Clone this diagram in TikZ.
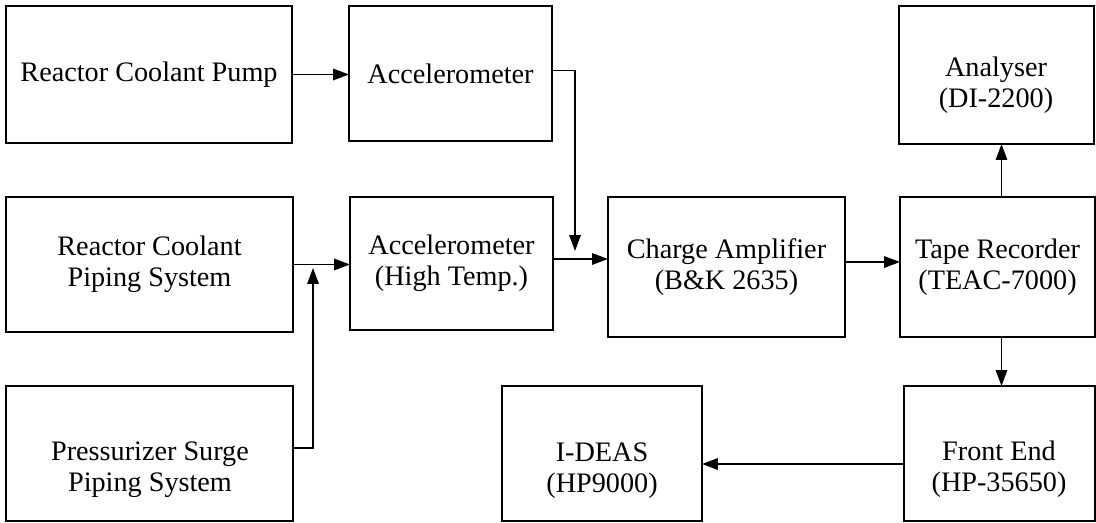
\documentclass[tikz,border=0pt]{standalone}
\usepackage{fontspec}
\setmainfont{Liberation Serif}
\usetikzlibrary{arrows.meta,calc}
\newcommand{\mybox}[6]{\node[box, minimum width={(#4-#2)*0.567pt}, minimum height={(#5-#3)*0.567pt}] (#1) at ({(#2+#4)/2},{(#3+#5)/2}) {#6};}
\begin{document}
\begin{tikzpicture}[x=0.567pt,y=-0.567pt,
  lbl/.style={align=center, inner sep=0pt, font=\fontsize{16}{17.5}\selectfont},
  box/.style={draw, line width=0.9pt, inner sep=0pt, outer sep=0pt, lbl},
  conn/.style={line width=0.8pt, -{Triangle[length=9pt,width=6.5pt]}}]
\useasboundingbox (0,0) rectangle (1096,522);
% row 1
\mybox{rcp}{6}{6}{292}{143}{Reactor Coolant Pump}
\mybox{acc}{349}{6}{552}{141}{Accelerometer}
\mybox{ana}{899}{6}{1094}{144}{}
\node[lbl] (anatext) at (996,85) {Analyser\\(DI-2200)};
% row 2
\mybox{rcps}{6}{197}{293}{332}{Reactor Coolant\\Piping System}
\mybox{acch}{350}{197}{553}{330}{Accelerometer\\(High Temp.)}
\mybox{chg}{608}{197}{845}{337}{Charge Amplifier\\(B\&K 2635)}
\mybox{tape}{900}{197}{1095}{337}{Tape Recorder\\(TEAC-7000)}
% row 3
\mybox{prs}{6}{386}{293}{521}{}
\node[lbl] (prstext) at (150,470) {Pressurizer Surge\\Piping System};
\mybox{ide}{502}{386}{702}{521}{}
\node[lbl] (idetext) at (602,471) {I-DEAS\\(HP9000)};
\mybox{fe}{904}{386}{1095}{521}{}
\node[lbl] (fetext) at (999,469) {Front End\\(HP-35650)};
% junction points
\coordinate (j1) at (575,251);
\coordinate (j2) at (313,268);
% connectors
\draw[conn] (rcp.east) -- (rcp.east -| acc.west);
\draw[conn] ($(acc.east)+(0,-3)$) -| (j1);
\draw[conn] ($(acch.east)+(0,-4.5)$) -- ($(acch.east -| chg.west)+(0,-4.5)$);
\draw[conn] (rcps.east) -- (rcps.east -| acch.west);
\draw[conn] ($(prs.east)+(0,-5.5)$) -| (j2);
\draw[conn] ($(chg.east)+(0,-5)$) -- ($(chg.east -| tape.west)+(0,-5)$);
\draw[conn] ($(tape.north)+(4,0)$) -- ($(tape.north |- ana.south)+(4,0)$);
\draw[conn] ($(tape.south)+(4,0)$) -- ($(tape.south |- fe.north)+(4,0)$);
\draw[conn] ($(fe.west)+(0,10.5)$) -- ($(fe.west -| ide.east)+(0,10.5)$);
\end{tikzpicture}
\end{document}
